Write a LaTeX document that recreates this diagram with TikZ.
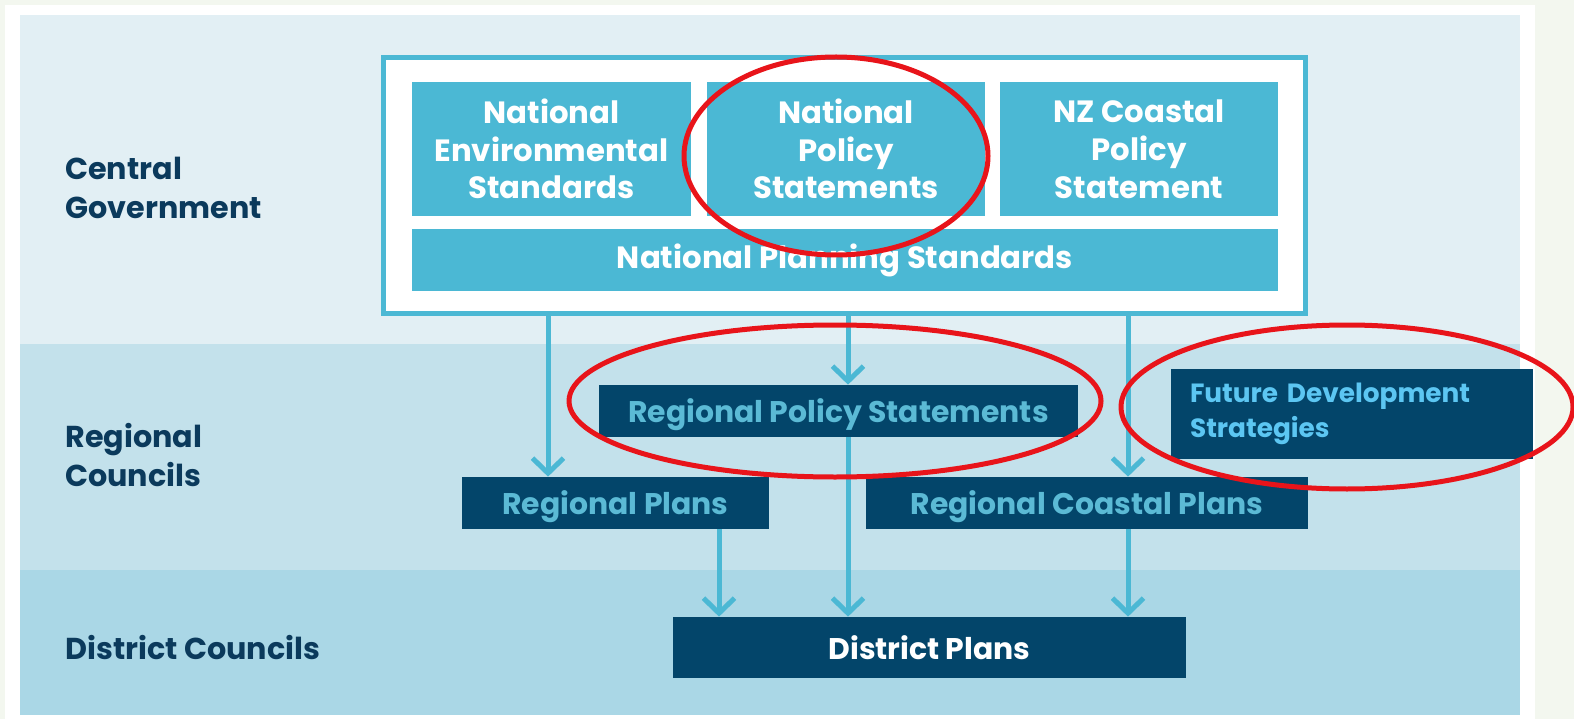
\documentclass[tikz,border=0pt]{standalone}
\usepackage{fontspec}
\setmainfont{Poppins}
\usetikzlibrary{arrows.meta,positioning}

\definecolor{pagebg}{HTML}{F3F7EF}
\definecolor{bandcg}{HTML}{E2EFF4}
\definecolor{bandrc}{HTML}{C3E1EB}
\definecolor{banddc}{HTML}{AAD7E6}
\definecolor{govcyan}{HTML}{4BB8D4}
\definecolor{navybox}{HTML}{03456A}
\definecolor{labelnavy}{HTML}{0B3A5C}
\definecolor{regtext}{HTML}{5BBAD5}
\definecolor{fdstext}{HTML}{5CC6F2}
\definecolor{markred}{HTML}{E8141A}

\begin{document}
\begin{tikzpicture}[x=0.02cm,y=-0.02cm,
    govbox/.style={fill=govcyan,text=white,inner sep=0pt,align=center,
      font=\bfseries\fontsize{17.5}{21.5}\selectfont},
    regbox/.style={fill=navybox,text=regtext,inner sep=0pt,align=center,
      text depth=0pt,minimum height=1.04cm,
      font=\bfseries\fontsize{17}{20}\selectfont},
    tierlabel/.style={anchor=west,text=labelnavy,align=left,inner sep=0pt,
      font=\bfseries\fontsize{17.2}{22}\selectfont},
    flow/.style={draw=govcyan,line width=0.1cm,
      -{Straight Barb[length=0.3cm,width=0.62cm,line width=0.1cm]}},
    redmark/.style={draw=markred,line width=0.1cm}]
  \useasboundingbox (0,0) rectangle (1574,719);
  \fill[pagebg] (0,0) rectangle (1574,719);
  \fill[white] (5,5) rectangle (1535,719);

  % tiers
  \fill[bandcg] (20,15) rectangle (1520,344);
  \fill[bandrc] (20,344) rectangle (1520,570);
  \fill[banddc] (20,570) rectangle (1520,715);
  \node[tierlabel] (lcg) at (65,188) {Central\\Government};
  \node[tierlabel] (lrc) at (65,455) {Regional\\Councils};
  \node[tierlabel] (ldc) at (65,648) {District Councils};

  % central government
  \node[draw=govcyan,fill=white,line width=0.11cm,minimum width=18.44cm,
    minimum height=5.12cm] (cg) at (844.5,185.5) {};
  \node[govbox,minimum width=5.58cm,minimum height=2.68cm] (nes) at (551.5,149)
    {National\\Environmental\\Standards};
  \node[govbox,minimum width=5.56cm,minimum height=2.68cm] (nps) at (846,149)
    {National\\Policy\\Statements};
  \node[govbox,minimum width=5.56cm,minimum height=2.68cm] (nzc) at (1139,149)
    {NZ Coastal\\Policy\\Statement};
  \node[govbox,minimum width=17.32cm,minimum height=1.24cm] (nps2) at (845,260)
    {National Planning Standards};

  % regional and district
  \node[regbox,minimum width=9.58cm] (rps) at (838.5,411) {Regional Policy Statements};
  \node[regbox,minimum width=6.14cm] (rp) at (615.5,503) {Regional Plans};
  \node[regbox,minimum width=8.84cm] (rcp) at (1087,503) {Regional Coastal Plans};
  \node[regbox,minimum width=10.26cm,minimum height=1.22cm,text=white] (dp)
    at (929.5,647.5) {District Plans};
  \node[fill=navybox,text=fdstext,minimum width=7.24cm,minimum height=1.8cm,
    inner sep=0pt,inner xsep=0.38cm,align=left,text width=6.48cm,
    font=\bfseries\fontsize{15}{19.8}\selectfont] (fds) at (1352,414)
    {Future Development\\Strategies};

  % arrows
  \draw[flow] (cg.south -| 548,0) -- (rp.north -| 548,0);
  \draw[flow] (cg.south -| 848,0) -- (rps.north -| 848,0);
  \draw[flow] (cg.south -| 1128,0) -- (rcp.north -| 1128,0);
  \draw[flow] (rps.south -| 848,0) -- (dp.north -| 848,0);
  \draw[flow] (rp.south -| 719,0) -- (dp.north -| 719,0);
  \draw[flow] (rcp.south -| 1128,0) -- (dp.north -| 1128,0);

  % red marks
  \draw[redmark] (836,156) ellipse [x radius=152,y radius=99];
  \draw[redmark] (835,401) ellipse [x radius=266,y radius=76];
  \draw[redmark] (1347,407) ellipse [x radius=226,y radius=82];
\end{tikzpicture}
\end{document}
